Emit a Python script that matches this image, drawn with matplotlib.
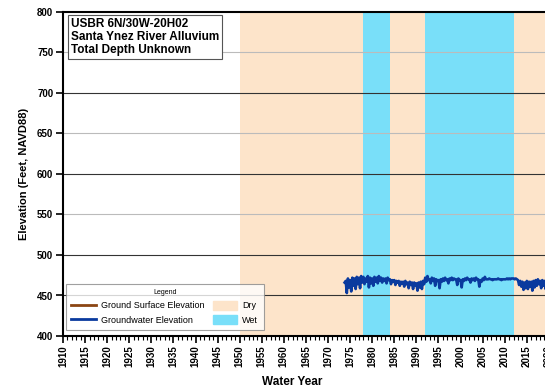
import numpy as np
import matplotlib
matplotlib.use("Agg")
import matplotlib.pyplot as plt
from matplotlib.patches import Patch
from matplotlib.lines import Line2D
from matplotlib.ticker import MultipleLocator

plt.rcParams['font.family'] = ['Liberation Sans', 'DejaVu Sans']

# climate periods (water years)
dry_periods = [(1950, 1978), (1984, 1992), (2012, 2026)]
wet_periods = [(1978, 1984), (1992, 2012)]

# groundwater elevation, quarterly from 1973.75
gw_start = 1973.75
gw_elev = [
    466,
    468, 453, 471, 460,
    469, 455, 472, 462,
    471, 458, 473, 464,
    472, 459, 474, 466,
    473, 464, 471, 467,
    474, 460, 472, 465,
    471, 462, 473, 467,
    472, 465, 474, 468,
    472, 466, 471, 468,
    471, 465, 472, 469,
    470, 464, 469, 467,
    469, 463, 468, 466,
    468, 462, 467, 465,
    467, 461, 468, 464,
    466, 459, 467, 463,
    466, 458, 466, 462,
    465, 456, 466, 460,
    467, 458, 468, 464,
    472, 467, 474, 469,
    470, 465, 472, 468,
    471, 462, 470, 468,
    469, 459, 470, 467,
    471, 468, 472, 469,
    470, 465, 471, 469,
    472, 469, 471, 470,
    470, 463, 471, 469,
    469, 460, 470, 468,
    471, 469, 472, 470,
    470, 466, 471, 469,
    471, 468, 472, 470,
    470, 461, 469, 467,
    471, 469, 473, 470,
    470, 470, 471, 470,
    470, 469, 470, 470,
    470, 470, 471, 470,
    470, 469, 470, 470,
    470, 470, 471, 470,
    471, 470, 471, 471,
    471, 470, 471, 470,
    469, 463, 468, 461,
    467, 457, 466, 459,
    468, 458, 467, 461,
    467, 456, 468, 460,
    469, 462, 470, 464,
    468, 459, 469, 462,
    468, 458, 467, 461,
    467, 459, 468, 462,
]
gw_years = gw_start + 0.25 * np.arange(len(gw_elev))

dry_color = '#FDE4CA'
wet_color = '#79DFF9'
gw_color = '#0A3A9E'
gs_color = '#8B4513'

fig = plt.figure(figsize=(5.45, 3.9), dpi=100)
ax = fig.add_axes([63/545, 54/390, 508/545, 324/390])

for a, b in dry_periods:
    ax.axvspan(a, b, color=dry_color, lw=0, zorder=0)
for a, b in wet_periods:
    ax.axvspan(a, b, color=wet_color, lw=0, zorder=0)

for y in [450, 500, 600, 700]:
    ax.axhline(y, color='#333333', lw=0.8, zorder=1)
for y in [550, 650, 750]:
    ax.axhline(y, color='#BBBBBB', lw=0.8, zorder=1)

ax.plot(gw_years, gw_elev, color=gw_color, lw=1.9, zorder=3)

ax.set_xlim(1910, 2025)
ax.set_ylim(400, 800)
ax.xaxis.set_major_locator(MultipleLocator(5))
ax.xaxis.set_minor_locator(MultipleLocator(1))
ax.yaxis.set_major_locator(MultipleLocator(50))
ax.tick_params(axis='x', which='major', length=5, width=1.2, labelsize=7, rotation=90, pad=2)
ax.tick_params(axis='x', which='minor', length=3, width=0.8)
ax.tick_params(axis='y', which='major', length=5, width=1.2, labelsize=7, pad=2)
for lab in ax.get_xticklabels() + ax.get_yticklabels():
    lab.set_fontweight('bold')
for s in ax.spines.values():
    s.set_linewidth(1.5)

ax.set_ylabel('Elevation (Feet, NAVD88)', fontsize=8, fontweight='bold', labelpad=6)
fig.text(292/545, 8/390, 'Water Year', fontsize=8.5, fontweight='bold', ha='center', va='center')

ax.text(0.016, 0.982, 'USBR 6N/30W-20H02\nSanta Ynez River Alluvium\nTotal Depth Unknown',
        transform=ax.transAxes, ha='left', va='top', fontsize=8.5, fontweight='bold',
        linespacing=1.1, zorder=5,
        bbox=dict(boxstyle='square,pad=0.25', fc='white', ec='#555555', lw=0.8))

handles = [Line2D([], [], color=gs_color, lw=2),
           Line2D([], [], color=gw_color, lw=2),
           Patch(color=dry_color),
           Patch(color=wet_color)]
labels = ['Ground Surface Elevation', 'Groundwater Elevation', 'Dry', 'Wet']
leg = ax.legend(handles, labels, title='Legend', ncol=2, loc='lower left',
                bbox_to_anchor=(0.0, 0.01), fontsize=6.5, title_fontsize=5,
                frameon=True, fancybox=False, edgecolor='#888888',
                handlelength=2.7, handleheight=1.2, columnspacing=0.9,
                borderaxespad=0.3, labelspacing=0.5, borderpad=0.6,
                handletextpad=0.6)
leg.get_frame().set_linewidth(0.8)
leg.set_zorder(6)

fig.savefig('out.png', dpi=100)
